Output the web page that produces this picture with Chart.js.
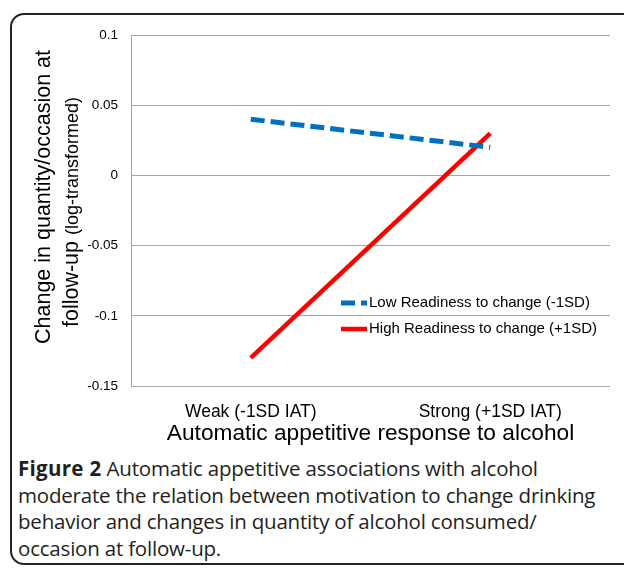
<!DOCTYPE html>
<html>
<head>
<meta charset="utf-8">
<script src="https://cdn.jsdelivr.net/npm/chart.js@4.4.0/dist/chart.umd.min.js"></script>
<style>
    body { margin: 0; background: #fff; }
    #wrap { position: relative; width: 624px; height: 568px; overflow: hidden; }
    #frame {
        position: absolute; left: 10px; top: 13px; width: 660px; height: 552px;
        border: 2px solid #222; border-radius: 14px; box-sizing: border-box;
    }
    #chartBox { position: absolute; left: 0; top: 0; width: 624px; height: 450px; }
    #caption {
        position: absolute; left: 18px; top: 455px; width: 610px;
        font-family: "Open Sans", sans-serif; font-size: 20.5px; line-height: 26.5px;
        color: #231f20; letter-spacing: -0.2px; white-space: nowrap;
    }
    #caption b { font-weight: 700; letter-spacing: 0.3px; }
</style>
</head>
<body>
<div id="wrap">
    <div id="frame"></div>
    <div id="chartBox"><canvas id="chart" width="624" height="450"></canvas></div>
    <div id="caption"><b>Figure 2</b> Automatic appetitive associations with alcohol<br>moderate the relation between motivation to change drinking<br>behavior and changes in quantity of alcohol consumed/<br>occasion at follow-up.</div>
</div>
<script>
// Chart data
const categories = ['Weak (-1SD IAT)', 'Strong (+1SD IAT)'];
const lowReadiness = [0.04, 0.02];
const highReadiness = [-0.13, 0.03];
const yTickLabels = ['-0.15', '-0.1', '-0.05', '0', '0.05', '0.1'];
const seriesNames = ['Low Readiness to change (-1SD)', 'High Readiness to change (+1SD)'];

const FONT = '"Liberation Sans", Arial, sans-serif';

// Y axis title with two font sizes on line 2
const yTitlePlugin = {
    id: 'yTitle',
    afterDraw(chart) {
        const ctx = chart.ctx;
        const lines = [
            { x: 50, y: 197, parts: [['Change in quantity/occasion at', 21.5]] },
            { x: 78, y: 212, parts: [['follow-up ', 21.5], ['(log-transformed)', 18]] }
        ];
        ctx.save();
        ctx.fillStyle = '#000';
        ctx.textBaseline = 'alphabetic';
        ctx.textAlign = 'left';
        lines.forEach(line => {
            let total = 0;
            line.parts.forEach(p => {
                ctx.font = p[1] + 'px ' + FONT;
                total += ctx.measureText(p[0]).width;
            });
            ctx.save();
            ctx.translate(line.x, line.y);
            ctx.rotate(-Math.PI / 2);
            let pos = -total / 2;
            line.parts.forEach(p => {
                ctx.font = p[1] + 'px ' + FONT;
                ctx.fillText(p[0], pos, 0);
                pos += ctx.measureText(p[0]).width;
            });
            ctx.restore();
        });
        ctx.restore();
    }
};

// Legend drawn inside the plot area
const innerLegend = {
    id: 'innerLegend',
    afterDraw(chart) {
        const ctx = chart.ctx;
        ctx.save();
        chart.data.datasets.forEach((ds, i) => {
            const y = 303 + i * 26;
            ctx.strokeStyle = ds.borderColor;
            ctx.lineWidth = ds.borderWidth;
            ctx.setLineDash(ds.borderDash || []);
            ctx.beginPath();
            ctx.moveTo(341, y);
            ctx.lineTo(367, y);
            ctx.stroke();
            ctx.setLineDash([]);
            ctx.fillStyle = '#000';
            ctx.font = '15px ' + FONT;
            ctx.textBaseline = 'middle';
            ctx.fillText(ds.label, 369, y);
        });
        ctx.restore();
    }
};

new Chart(document.getElementById('chart'), {
    type: 'line',
    data: {
        labels: categories,
        datasets: [
            {
                label: seriesNames[0],
                data: lowReadiness,
                borderColor: '#0070c0',
                borderWidth: 5,
                borderDash: [14, 6],
                pointRadius: 0,
                fill: false
            },
            {
                label: seriesNames[1],
                data: highReadiness,
                borderColor: '#ff0000',
                borderWidth: 4.5,
                pointRadius: 0,
                fill: false
            }
        ]
    },
    options: {
        responsive: false,
        animation: false,
        layout: { padding: { top: 35, right: 14, left: 0, bottom: 0 } },
        plugins: {
            legend: { display: false },
            tooltip: { enabled: false }
        },
        scales: {
            x: {
                offset: true,
                grid: { display: false },
                border: { display: false },
                ticks: { color: '#000', font: { family: FONT, size: 17.5 }, padding: 8 },
                title: {
                    display: true,
                    text: 'Automatic appetitive response to alcohol',
                    color: '#000',
                    font: { family: FONT, size: 22.7 },
                    padding: { top: 0, bottom: 3 }
                },
                afterFit(scale) { scale.height = 64; }
            },
            y: {
                min: -0.15,
                max: 0.1,
                grid: { color: '#a6a6a6', lineWidth: 1, drawTicks: false },
                border: { display: true, color: '#a6a6a6' },
                ticks: {
                    stepSize: 0.05,
                    color: '#000',
                    font: { family: FONT, size: 13.5 },
                    padding: 13,
                    callback: (value, index) => yTickLabels[index]
                },
                afterFit(scale) { scale.width = 131; }
            }
        }
    },
    plugins: [yTitlePlugin, innerLegend]
});
</script>
</body>
</html>
